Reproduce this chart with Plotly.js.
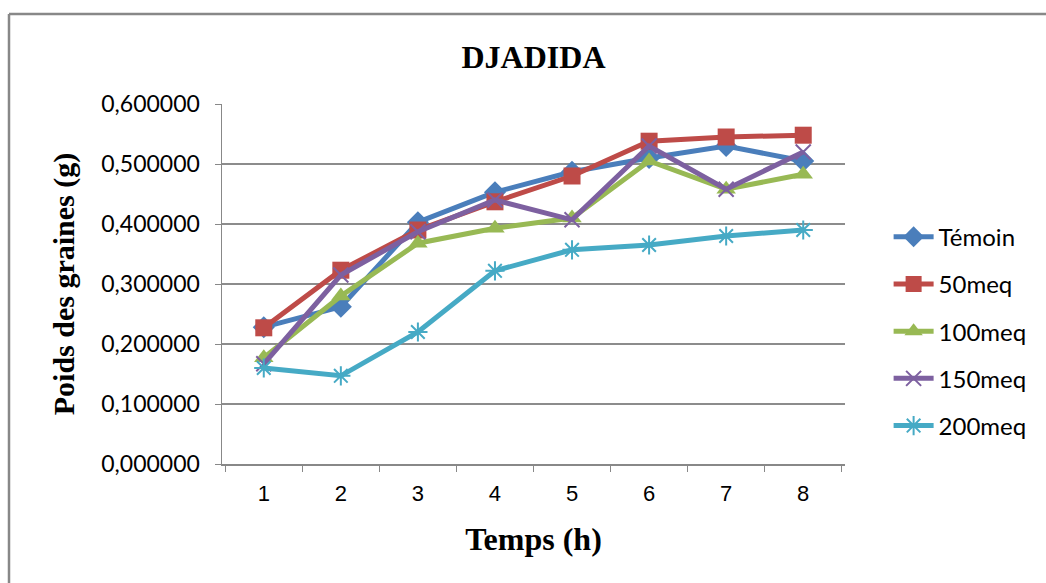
<!DOCTYPE html>
<html>
<head>
<meta charset="utf-8">
<script src="https://cdn.plot.ly/plotly-3.0.1.min.js"></script>
<style>
html,body{margin:0;padding:0;background:#fff;}
#chart{width:1046px;height:583px;}
</style>
</head>
<body>
<div id="chart"></div>
<script>
var hours = ["1","2","3","4","5","6","7","8"];
var temoin = [0.228, 0.262, 0.403, 0.453, 0.487, 0.510, 0.530, 0.505];
var meq50  = [0.227, 0.323, 0.390, 0.437, 0.480, 0.538, 0.545, 0.548];
var meq100 = [0.177, 0.280, 0.368, 0.393, 0.410, 0.505, 0.458, 0.483];
var meq150 = [0.167, 0.315, 0.387, 0.440, 0.407, 0.530, 0.458, 0.520];
var meq200 = [0.160, 0.147, 0.220, 0.322, 0.357, 0.365, 0.380, 0.390];
var seriesNames = ["Témoin","50meq","100meq","150meq","200meq"];

var styles = [
  {color:"#4A7EBB", symbol:"diamond", size:17},
  {color:"#BE4B48", symbol:"square", size:17},
  {color:"#98B954", symbol:"triangle-up", size:17},
  {color:"#7D60A0", symbol:"x-thin-open", size:15},
  {color:"#46AAC5", symbol:"asterisk-open", size:16}
];
var values = [temoin, meq50, meq100, meq150, meq200];
var traces = values.map(function(v,i){
  var s = styles[i];
  return {
    x: hours, y: v, name: seriesNames[i], type:"scatter", mode:"lines+markers",
    legendgroup: "g"+i,
    line:{color:s.color, width:5},
    marker:{symbol:s.symbol, size:s.size, color:s.color, line:{color:s.color, width:(i>=3?2:0)}}
  };
});

var layout = {
  width:1046, height:583,
  margin:{l:222, r:201, t:104, b:119},
  paper_bgcolor:"#fff", plot_bgcolor:"#fff",
  separators:", ",
  showlegend:true,
  title:{text:"<b>DJADIDA</b>", x:0.5, xref:"paper", y:0.902, yref:"container", yanchor:"middle",
         font:{family:"Liberation Serif", size:32, color:"#000"}},
  xaxis:{type:"category", tickson:"boundaries", ticks:"outside", ticklen:6, tickcolor:"#888",
         showline:true, linecolor:"#888", linewidth:1.5, showgrid:false, zeroline:false,
         ticklabelstandoff:9,
         tickfont:{family:"Liberation Sans", size:22, color:"#000"},
         title:{text:"<b>Temps (h)</b>", standoff:22, font:{family:"Liberation Serif", size:32, color:"#000"}}},
  yaxis:{range:[0,0.6], dtick:0.1, tick0:0, tickformat:".6f", ticks:"outside", ticklen:6, tickcolor:"#888",
         showline:true, linecolor:"#888", linewidth:1.5, showgrid:true, gridcolor:"#8c8c8c", gridwidth:1.2,
         zeroline:false, ticklabelstandoff:10,
         tickfont:{family:"Lato", size:23, color:"#000"},
         title:{text:"<b>Poids des graines (g)</b>", standoff:18, font:{family:"Liberation Serif", size:30, color:"#000"}}},
  legend:{x:1.07, xanchor:"left", y:0.369, yanchor:"middle", tracegroupgap:13,
          font:{family:"Lato", size:24, color:"#000"}, itemwidth:40, bgcolor:"rgba(0,0,0,0)"},
  shapes:[
    {type:"line", xref:"paper", yref:"paper", x0:(9-222)/623, x1:(1046-222)/623, y0:(464-14)/360, y1:(464-14)/360,
     line:{color:"#888", width:2.5}},
    {type:"line", xref:"paper", yref:"paper", x0:(9-222)/623, x1:(9-222)/623, y0:(464-14)/360, y1:(464-600)/360,
     line:{color:"#888", width:2.5}}
  ]
};
Plotly.newPlot("chart", traces, layout, {displayModeBar:false, staticPlot:true});
</script>
</body>
</html>
